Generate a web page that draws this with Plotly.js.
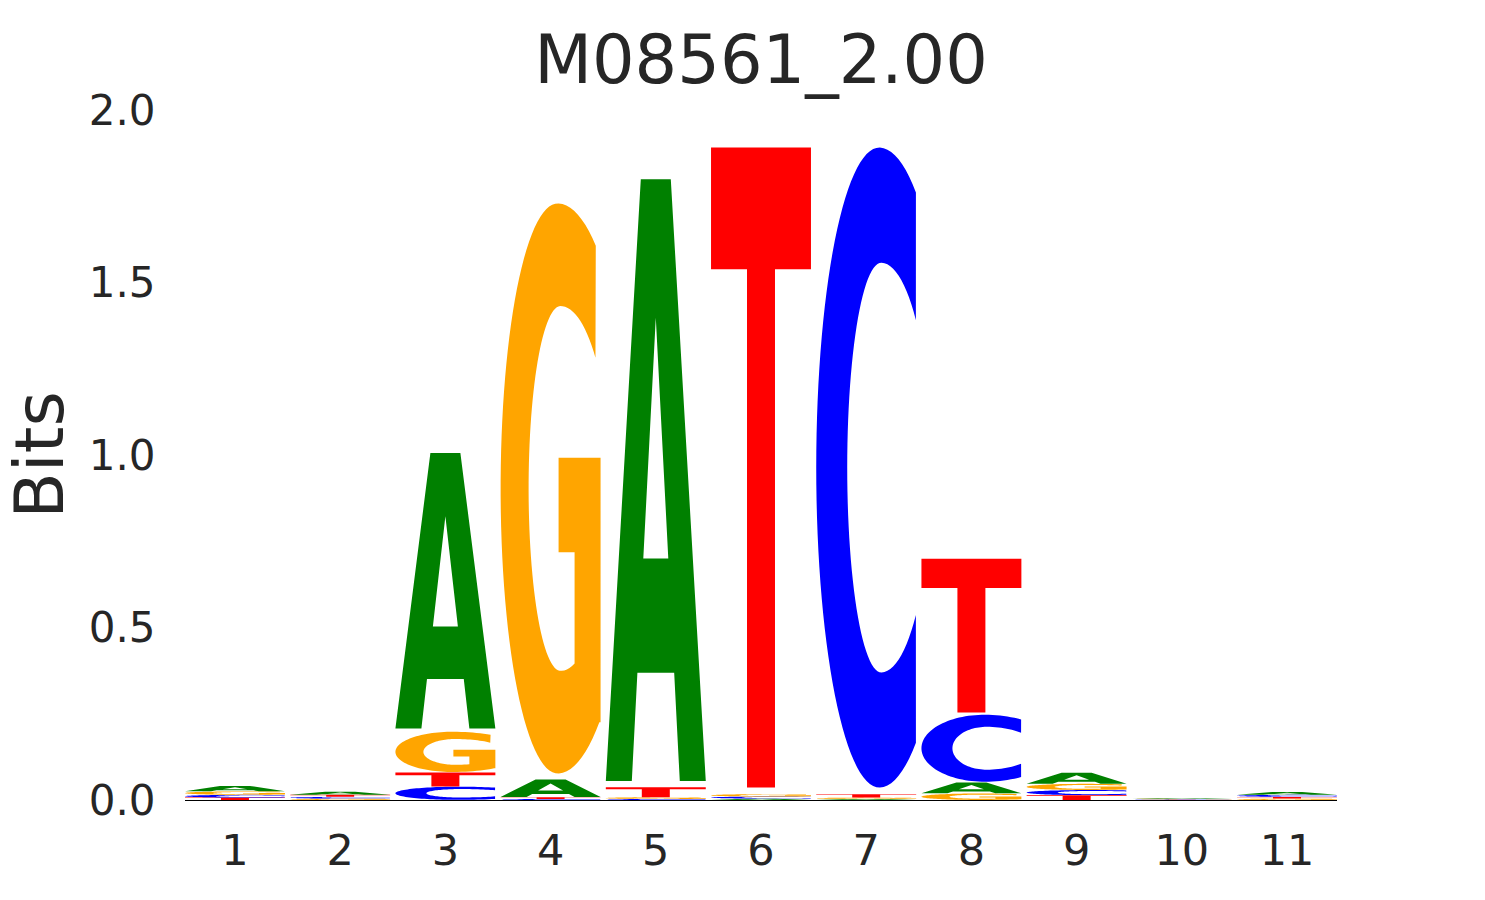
<!DOCTYPE html>
<html>
<head>
<meta charset="utf-8">
<script src="https://cdn.plot.ly/plotly-3.0.1.min.js"></script>
<style>html,body{margin:0;padding:0;background:#fff;}#chart{width:1485px;height:900px;}</style>
</head>
<body>
<div id="chart"></div>
<script>
// ---- data (bits per letter at each position) ----
const positions = [1, 2, 3, 4, 5, 6, 7, 8, 9, 10, 11];
const tickLabels = ['1', '2', '3', '4', '5', '6', '7', '8', '9', '10', '11'];
const bitsA = [0.016, 0.009, 0.815, 0.052, 1.780, 0.004, 0.003, 0.032, 0.032, 0.0020, 0.008];
const bitsC = [0.008, 0.005, 0.039, 0.003, 0.003, 0.006, 1.893, 0.198, 0.015, 0.0012, 0.006];
const bitsG = [0.010, 0.004, 0.119, 1.686, 0.005, 0.007, 0.004, 0.019, 0.018, 0.0015, 0.004];
const bitsT = [0.007, 0.006, 0.041, 0.005, 0.029, 1.893, 0.010, 0.455, 0.014, 0.0010, 0.005];
const yTickVals = [0, 0.5, 1.0, 1.5, 2.0];
const yTickText = ['0.0', '0.5', '1.0', '1.5', '2.0'];
const titleText = 'M08561_2.00';
const yTitle = 'Bits';

const colors = {A: '#008000', C: '#0000ff', G: '#ffa500', T: '#ff0000'};

// ---- glyph outlines in a unit box (u,v in [0,1]) ----
function ellPt(cx, rxL, rxR, cy, ry, t) {
  const c = Math.cos(t), s = Math.sin(t);
  return [Math.min(1, cx + (c >= 0 ? rxR : rxL) * c), cy + ry * s];
}
function arc(cx, rxL, rxR, cy, ry, t0, t1, n) {
  const pts = [];
  for (let i = 0; i <= n; i++) {
    const t = t0 + (t1 - t0) * i / n;
    pts.push(ellPt(cx, rxL, rxR, cy, ry, t));
  }
  return pts;
}
function glyphA() {
  const outer = [[0,0],[0.35,1],[0.65,1],[1,0],[0.74,0],[0.684,0.18],[0.316,0.18],[0.26,0]];
  const hole = [[0.625,0.37],[0.5,0.77],[0.375,0.37]];
  return [outer, hole];
}
function glyphT() {
  return [[[0,1],[1,1],[1,0.81],[0.64,0.81],[0.64,0],[0.36,0],[0.36,0.81],[0,0.81]]];
}
function glyphC() {
  const t0 = Math.asin(0.86);
  const outer = arc(0.63, 0.63, 0.72, 0.5, 0.5, t0, 2*Math.PI - t0, 80);
  const p0 = Math.asin(0.72);
  const inner = arc(0.65, 0.34, 0.5, 0.5, 0.32, 2*Math.PI - p0, p0, 80);
  return [outer.concat(inner)];
}
function glyphG() {
  const t0 = Math.asin(0.852);
  const t1 = 2*Math.PI - Math.asin(0.82);
  const outer = arc(0.57, 0.57, 0.73, 0.5, 0.5, t0, t1, 80);
  const vEnd = outer[outer.length-1][1];
  const bar = [[1, vEnd],[1,0.554],[0.58,0.554],[0.58,0.388],[0.74,0.388]];
  const ts = -Math.acos(0.28);
  const p0 = Math.asin(0.716);
  const inner = arc(0.6, 0.32, 0.5, 0.5, 0.32, ts, -2*Math.PI + p0, 80);
  return [outer.concat(bar, inner)];
}
const glyphs = {A: glyphA(), C: glyphC(), G: glyphG(), T: glyphT()};

// ---- build stacked letter shapes ----
const letterWidth = 0.95;
const vpad = 0.02;
const shapes = [];
positions.forEach((p, i) => {
  const items = [['A', bitsA[i]], ['C', bitsC[i]], ['G', bitsG[i]], ['T', bitsT[i]]]
    .sort((a, b) => a[1] - b[1]);
  let base = 0;
  items.forEach(([L, h]) => {
    const pad = h * vpad / 2;
    const y0 = base + pad, gh = h - 2 * pad;
    const x0 = p - letterWidth / 2;
    let path = '';
    glyphs[L].forEach(sub => {
      sub.forEach((pt, k) => {
        const x = x0 + pt[0] * letterWidth;
        const y = y0 + pt[1] * gh;
        path += (k === 0 ? 'M' : 'L') + x.toFixed(5) + ',' + y.toFixed(6) + ' ';
      });
      path += 'Z ';
    });
    shapes.push({
      type: 'path', xref: 'x', yref: 'y', path: path,
      fillcolor: colors[L], fillrule: 'evenodd',
      line: {width: 0, color: 'rgba(0,0,0,0)'}, layer: 'above'
    });
    base += h;
  });
});

const trace = {
  x: positions, y: positions.map(() => 0), type: 'scatter', mode: 'markers',
  marker: {opacity: 0}, hoverinfo: 'skip', showlegend: false
};

const layout = {
  width: 1485, height: 900,
  margin: {l: 185, r: 148, t: 110, b: 100},
  paper_bgcolor: '#ffffff', plot_bgcolor: '#ffffff',
  font: {family: 'DejaVu Sans', color: '#262626'},
  title: {text: titleText, font: {size: 67, color: '#262626'}, xref: 'paper', x: 0.5, xanchor: 'center',
          yref: 'container', y: 0.934, yanchor: 'middle'},
  xaxis: {
    range: [0.525, 11.475], tickvals: positions, ticktext: tickLabels,
    showgrid: false, zeroline: false, showline: true, linecolor: '#000000', linewidth: 1,
    ticks: 'outside', ticklen: 12, tickcolor: 'rgba(0,0,0,0)', tickfont: {size: 43, color: '#262626'}
  },
  yaxis: {
    range: [0, 2], tickvals: yTickVals, ticktext: yTickText,
    showgrid: false, zeroline: false, showline: false,
    ticks: 'outside', ticklen: 20, tickcolor: 'rgba(0,0,0,0)', tickfont: {size: 42, color: '#262626'},
    title: {text: yTitle, font: {size: 68, color: '#262626'}, standoff: 30}
  },
  shapes: shapes,
  showlegend: false
};

Plotly.newPlot('chart', [trace], layout, {displayModeBar: false, staticPlot: true});
</script>
</body>
</html>
